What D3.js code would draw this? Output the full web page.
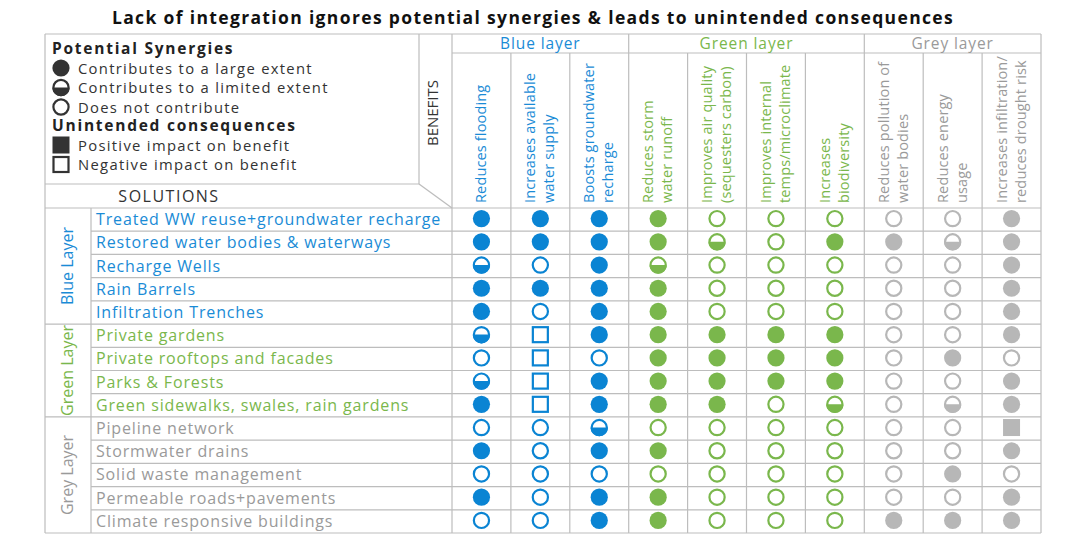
<!DOCTYPE html>
<html><head><meta charset="utf-8">
<script src="https://cdn.jsdelivr.net/npm/d3@7"></script>
<style>
body{margin:0;background:#fff;}
svg text{font-family:"Open Sans",sans-serif;}
</style></head>
<body><svg id="c" width="1077" height="546"></svg>
<script>
const title = "Lack of integration ignores potential synergies & leads to unintended consequences";
const layers = ["Blue", "Green", "Grey"];
const layerColors = {Blue:"#0a84d3", Green:"#7ab74c", Grey:"#b7b7b7"};
const layerText = {Blue:"#1a8bd6", Green:"#7ab74c", Grey:"#9a9a9a"};
const benefitLayers = ["Blue layer","Blue layer","Blue layer","Green layer","Green layer","Green layer","Green layer","Grey layer","Grey layer","Grey layer"];
const benefits = [
  ["Reduces flooding"],
  ["Increases available","water supply"],
  ["Boosts groundwater","recharge"],
  ["Reduces storm","water runoff"],
  ["Improves air quality","(sequesters carbon)"],
  ["Improves internal","temps/microclimate"],
  ["Increases","biodiversity"],
  ["Reduces pollution of","water bodies"],
  ["Reduces energy","usage"],
  ["Increases infiltration/","reduces drought risk"]
];
const solutionLayers = ["Blue","Blue","Blue","Blue","Blue","Green","Green","Green","Green","Grey","Grey","Grey","Grey","Grey"];
const solutions = ["Treated WW reuse+groundwater recharge","Restored water bodies & waterways","Recharge Wells","Rain Barrels","Infiltration Trenches","Private gardens","Private rooftops and facades","Parks & Forests","Green sidewalks, swales, rain gardens","Pipeline network","Stormwater drains","Solid waste management","Permeable roads+pavements","Climate responsive buildings"];
// F = large extent, H = limited extent, O = does not contribute, S = positive impact, Q = negative impact
const matrix = [
  "FFFFOOOOOF",
  "FFFFHOFFHF",
  "HOFHOOOOOF",
  "FFFFOOOOOF",
  "FOFFOOOOOF",
  "HQFFFFFOOF",
  "OQOFFFFOFO",
  "HQFFFFFOOF",
  "FQFFFOHOHF",
  "OOHOOOOOOS",
  "FOFFOOOOOF",
  "OOOOOOOOFO",
  "FOFFOOOOOF",
  "OOFFOOOFFF"
];
const legendSynergy = [["F","Contributes to a large extent"],["H","Contributes to a limited extent"],["O","Does not contribute"]];
const legendConseq = [["S","Positive impact on benefit"],["Q","Negative impact on benefit"]];

const svg = d3.select("#c");
const grid = "#bdbdbd";
const L = {left:45, right:1041, top:34, layerRow:53, head:208, bottom:533, labelCol:91, benCol:419, matLeft:452, solLine:184};

const bIdx = benefits.map((d,i)=>i);
const x = d3.scaleBand().domain(bIdx).range([L.matLeft, L.right]);
const y = d3.scaleBand().domain(solutions.map((d,i)=>i)).range([L.head, L.bottom]);

// title
svg.append("text").attr("x",533).attr("y",24).attr("text-anchor","middle")
  .attr("font-size",17.5).attr("font-weight",700).attr("letter-spacing",1.35).attr("fill","#111").text(title);

const g = svg.append("g");
function line(x1,y1,x2,y2){ g.append("line").attr("x1",x1).attr("y1",y1).attr("x2",x2).attr("y2",y2).attr("stroke",grid).attr("stroke-width",1.2); }

// outer lines
line(L.left,L.top,L.right,L.top);
line(L.left,L.top,L.left,L.bottom);
line(L.right,L.top,L.right,L.bottom);
line(L.left,L.bottom,L.right,L.bottom);
line(L.benCol,L.top,L.benCol,L.solLine);
line(L.left,L.solLine,L.benCol,L.solLine);
line(L.benCol,L.solLine,L.matLeft,L.head);
line(L.matLeft,L.top,L.matLeft,L.bottom);
line(L.matLeft,L.layerRow,L.right,L.layerRow);
line(L.left,L.head,L.right,L.head);
line(L.labelCol,L.head,L.labelCol,L.bottom);

// column lines
bIdx.forEach(i=>{
  if(i===0) return;
  const top = benefitLayers[i]!==benefitLayers[i-1] ? L.top : L.layerRow;
  line(x(i),top,x(i),L.bottom);
});
// row lines
solutions.forEach((s,i)=>{
  if(i===0) return;
  const left = solutionLayers[i]!==solutionLayers[i-1] ? L.left : L.labelCol;
  line(left,y(i),L.right,y(i));
});

// layer headers
const groups = d3.groups(bIdx, i=>benefitLayers[i]);
groups.forEach(([name, idx])=>{
  const x0 = x(idx[0]), x1 = x(idx[idx.length-1])+x.bandwidth();
  const key = name.split(" ")[0];
  svg.append("text").attr("x",(x0+x1)/2).attr("y",48.5).attr("text-anchor","middle")
    .attr("font-size",15.5).attr("letter-spacing",0.9).attr("fill",layerText[key]).text(name);
});

// benefit column headers (rotated)
benefits.forEach((lines,i)=>{
  const key = benefitLayers[i].split(" ")[0];
  const cx = x(i)+x.bandwidth()/2;
  lines.forEach((t,j)=>{
    const bx = cx + 4.5 + (j-(lines.length-1)/2)*19;
    svg.append("text").attr("transform",`translate(${bx},203) rotate(-90)`)
      .attr("font-size",14.5).attr("letter-spacing",0.15).attr("fill",layerText[key]).text(t);
  });
});

// BENEFITS / SOLUTIONS
svg.append("text").attr("transform",`translate(438,113) rotate(-90)`).attr("text-anchor","middle")
  .attr("font-size",15).attr("fill","#333").text("BENEFITS");
svg.append("text").attr("x",169).attr("y",201.5).attr("text-anchor","middle")
  .attr("font-size",16).attr("letter-spacing",1.5).attr("fill","#333").text("SOLUTIONS");

// layer side labels
const sgroups = d3.groups(solutions.map((d,i)=>i), i=>solutionLayers[i]);
sgroups.forEach(([name, idx])=>{
  const y0 = y(idx[0]), y1 = y(idx[idx.length-1])+y.bandwidth();
  svg.append("text").attr("transform",`translate(73,${(y0+y1)/2}) rotate(-90)`).attr("text-anchor","middle")
    .attr("font-size",16).attr("fill",layerText[name]).text(name+" Layer");
});

// solution names
solutions.forEach((s,i)=>{
  svg.append("text").attr("x",96).attr("y",y(i)+y.bandwidth()/2+5.5)
    .attr("font-size",16).attr("letter-spacing",0.85).attr("fill",layerText[solutionLayers[i]]).text(s);
});

// symbols
function symbol(sel, code, cx, cy, color){
  const r = 7.6;
  if(code==="F"){
    sel.append("circle").attr("cx",cx).attr("cy",cy).attr("r",r+1).attr("fill",color);
  } else if(code==="O"){
    sel.append("circle").attr("cx",cx).attr("cy",cy).attr("r",r).attr("fill","#fff").attr("stroke",color).attr("stroke-width",2.2);
  } else if(code==="H"){
    sel.append("circle").attr("cx",cx).attr("cy",cy).attr("r",r).attr("fill","#fff").attr("stroke",color).attr("stroke-width",2.2);
    const yy = cy+1, dx = Math.sqrt(r*r-1);
    sel.append("path").attr("d",`M${cx-dx},${yy} A${r},${r} 0 0 0 ${cx+dx},${yy} Z`).attr("fill",color).attr("stroke",color).attr("stroke-width",2.2).attr("stroke-linejoin","round");
  } else if(code==="S"){
    sel.append("rect").attr("x",cx-8.5).attr("y",cy-8.5).attr("width",17).attr("height",17).attr("fill",color);
  } else if(code==="Q"){
    sel.append("rect").attr("x",cx-7.5).attr("y",cy-7.5).attr("width",15).attr("height",15).attr("fill","#fff").attr("stroke",color).attr("stroke-width",2.2);
  }
}
const cells = svg.append("g");
matrix.forEach((row,i)=>{
  row.split("").forEach((code,j)=>{
    const key = benefitLayers[j].split(" ")[0];
    symbol(cells, code, x(j)+x.bandwidth()/2, y(i)+y.bandwidth()/2-1, layerColors[key]);
  });
});

// legend
const lg = svg.append("g");
lg.append("text").attr("x",52).attr("y",54).attr("font-size",15.5).attr("font-weight",700).attr("letter-spacing",1.75).attr("fill","#222").text("Potential Synergies");
legendSynergy.forEach(([c,t],i)=>{
  const cy = 68 + i*19.5;
  symbol(lg, c, 61, cy, "#333");
  lg.append("text").attr("x",78).attr("y",cy+5.5).attr("font-size",14.8).attr("letter-spacing",1.3).attr("fill","#333").text(t);
});
lg.append("text").attr("x",52).attr("y",131).attr("font-size",15.5).attr("font-weight",700).attr("letter-spacing",1.75).attr("fill","#222").text("Unintended consequences");
legendConseq.forEach(([c,t],i)=>{
  const cy = 145 + i*19.5;
  symbol(lg, c, 61, cy, "#333");
  lg.append("text").attr("x",78).attr("y",cy+5.5).attr("font-size",14.8).attr("letter-spacing",1.3).attr("fill","#333").text(t);
});
</script></body></html>
